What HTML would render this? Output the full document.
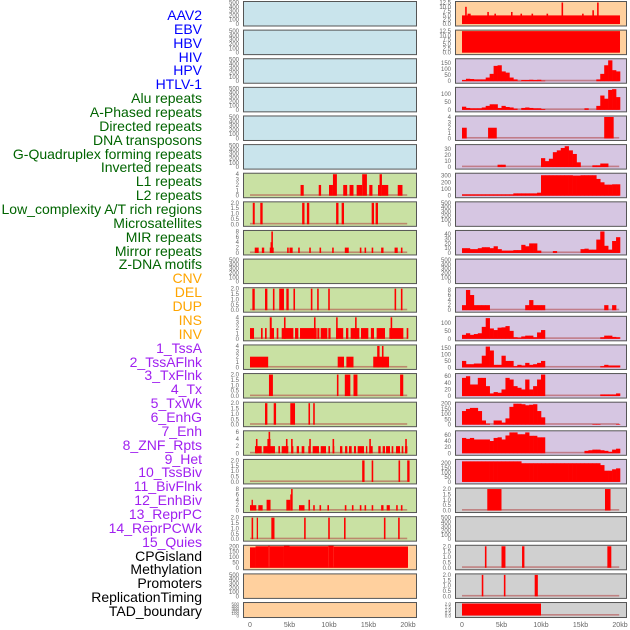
<!DOCTYPE html>
<html><head><meta charset="utf-8">
<style>
html,body{margin:0;padding:0;background:#fff;}
#wrap{position:relative;width:630px;height:630px;overflow:hidden;font-family:"Liberation Sans",sans-serif;}
.lab{position:absolute;right:428px;font-size:14px;line-height:14px;white-space:nowrap;}
svg{position:absolute;left:0;top:0;}
</style></head>
<body>
<div id="wrap">
<svg id="chart" width="630" height="630"></svg>
</div>
<script>
// ---------- data ----------
const labels = ["AAV2","EBV","HBV","HIV","HPV","HTLV-1","Alu repeats","A-Phased repeats","Directed repeats","DNA transposons","G-Quadruplex forming repeats","Inverted repeats","L1 repeats","L2 repeats","Low_complexity A/T rich regions","Microsatellites","MIR repeats","Mirror repeats","Z-DNA motifs","CNV","DEL","DUP","INS","INV","1_TssA","2_TssAFlnk","3_TxFlnk","4_Tx","5_TxWk","6_EnhG","7_Enh","8_ZNF_Rpts","9_Het","10_TssBiv","11_BivFlnk","12_EnhBiv","13_ReprPC","14_ReprPCWk","15_Quies","CPGisland","Methylation","Promoters","ReplicationTiming","TAD_boundary"];
const labelGroups = [6,13,5,15,5];
const groupColors = ["#0000ff","#006400","#ffa500","#a020f0","#000000"];
const xTickValues = [0,5,10,15,20];
const xTickLabels = ["0","5kb","10kb","15kb","20kb"];

const leftBg = ["b","b","b","b","b","b","g","g","g","g","g","g","g","g","g","g","g","g","g","p","p","p"];
const rightBg = ["p","p","v","v","v","v","v","v","v","v","v","v","v","v","v","v","v","e","e","e","e","e"];

const T500 = ["0","100","200","300","400","500"];
const T2 = ["0.0","0.5","1.0","1.5","2.0"];
const leftTicks = [T500,T500,T500,T500,T500,T500,["0","1","2","3","4"],T2,["0","2","4","6","8"],T500,T2,["0","1","2","3","4"],["0","1","2","3","4"],T2,T2,["0","2","4","6"],T2,["0","2","4","6","8"],T2,["0","50","100","150","200"],T500,T500];
const leftYMax = [500,500,500,500,500,500,4,2,8,500,2,4,4,2,2,6,2,8,2,200,500,500];
const rightTicks = [["0.0","2.5","5.0","7.5","10.0","12.5"],["0.0","2.5","5.0","7.5","10.0","12.5"],["0","50","100","150"],["0","50","100"],["0","1","2","3","4"],["0","10","20","30"],["0","100","200","300"],T500,["0","10","20","30","40"],T500,["0","2","4","6","8"],["0","50","100"],["0","50","100","150"],["0","20","40","60"],["0","50","100","150","200"],["0","20","40","60"],["0","50","100","150","200"],T2,T500,T2,T2,T2];
const rightYMax = [12.5,12.5,175,135,4,36,320,500,45,500,8.5,135,165,65,205,70,230,2,500,2,2,2];

// segments [startKb, endKb, value]
const leftSegs = [[],[],[],[],[],[],
 [[6.4,6.8,2],[8.7,9.0,2],[10.0,10.5,2],[10.5,11.0,4],[11.8,12.3,2],[12.6,13.1,2],[13.5,14.2,2],[14.2,14.8,4],[15.1,15.5,2],[16.2,16.6,2],[16.4,16.7,4],[16.7,17.5,2],[18.7,19.3,2]],
 [[0.35,0.6,2],[1.3,1.6,2],[6.6,6.9,2],[7.2,7.5,2],[10.9,11.2,2],[11.6,11.9,2],[15.4,15.7,2],[15.9,16.2,2]],
 [[0.6,1.1,2],[1.5,1.8,2],[2.5,3.0,2],[2.6,2.7,4],[2.7,2.9,8],[4.7,4.9,2],[5.0,5.4,2],[6.1,6.3,2],[7.5,7.7,2],[8.8,9.0,2],[10.4,10.6,2],[12.0,12.5,2],[13.9,14.1,2],[14.5,14.7,2],[15.4,15.6,2],[16.6,16.9,2],[18.3,18.7,2],[19.1,19.3,2]],
 [],
 [[0.3,0.6,2],[1.9,2.2,2],[2.9,3.1,2],[3.7,4.3,2],[4.6,4.9,2],[5.5,5.7,2],[7.7,7.9,2],[8.5,8.7,2],[9.9,10.1,2],[18.3,18.5,2],[19.1,19.3,2]],
 [[0,0.51,2],[1.39,1.6,2],[1.9,2.11,2],[2.53,3.04,2],[3.38,3.59,2],[4.01,5.49,2],[5.7,6.12,2],[6.33,8.44,2],[8.52,8.78,2],[8.95,9.79,2],[9.92,10.2,2],[10.9,11.8,2],[12.15,12.45,2],[12.74,13.84,2],[14.05,14.98,2],[15.3,15.7,2],[16.03,17.09,2],[17.64,19.41,2],[19.83,20.04,2],[2.5,2.75,4],[4.3,4.5,4],[8.1,8.3,4],[10.9,11.1,4],[13.3,13.5,4],[17.8,18.0,4]],
 [[0,2.3,2],[11.1,11.9,2],[12.2,13.1,2],[15.6,17.6,2],[16.1,16.4,4],[16.7,16.9,4]],
 [[2.4,2.9,2],[11.0,11.2,2],[12.0,12.7,2],[13.1,13.6,2],[19.0,19.4,2]],
 [[1.9,2.2,2],[3.0,3.3,2],[5.1,5.7,2],[7.4,7.6,2],[8.0,8.2,2]],
 [[0.63,1.48,2],[1.69,3.16,2],[3.59,3.8,2],[4.01,4.85,2],[5.27,5.49,2],[5.91,6.2,2],[6.54,6.88,2],[7.38,7.59,2],[7.93,8.73,2],[8.95,9.62,2],[9.92,10.13,2],[10.46,10.67,2],[11.39,11.69,2],[12.03,12.32,2],[12.53,12.87,2],[13.16,13.42,2],[13.63,14.43,2],[14.68,14.85,2],[15.1,15.53,2],[16.24,16.54,2],[16.79,17.09,2],[17.22,17.72,2],[17.93,18.14,2],[18.48,18.99,2],[19.2,19.41,2],[19.62,19.92,2],[0.75,0.95,4],[2.2,2.6,4],[2.35,2.55,6],[4.55,4.75,4],[5.2,5.4,4],[7.5,7.7,4],[10.45,10.65,4],[15.1,15.3,4],[19.65,19.85,4]],
 [[14.2,14.5,2],[15.4,15.6,2],[18.8,19.0,2],[19.9,20.2,2]],
 [[0,0.8,2],[0.2,0.35,4],[1.05,1.6,2],[2.1,2.6,4],[4.6,5.1,4],[5.1,5.25,6],[5.2,5.4,8],[6.2,6.9,2],[7.4,7.6,4],[8.0,8.2,2],[8.8,9.0,2],[9.8,10.0,2],[12.0,12.2,2],[12.9,13.1,2],[13.9,14.1,2],[14.5,14.7,2],[15.4,15.6,2],[16.6,16.9,2],[17.3,17.7,2],[18.5,18.7,2],[19.1,19.3,2]],
 [[0.2,0.4,2],[0.85,1.0,2],[2.7,3.1,2],[6.85,7.05,2],[9.9,10.1,2],[11.9,12.1,2],[16.95,17.15,2],[18.75,18.95,2]],
 [[0,0.7,190],[0.7,2.3,200],[2.3,2.5,205],[2.5,4.3,200],[4.3,5.0,205],[5.0,9.9,200],[9.9,10.6,205],[10.6,20,198]],
 [],[]];

const rightSegs = [
 [[0,20,5],[0.4,0.6,10],[0.7,1.1,6],[3.2,3.4,7],[4.1,4.3,6],[6.2,6.4,7],[7.4,7.6,6],[8.8,9.0,6],[10.7,10.9,6],[12.6,12.8,12.5],[15.2,15.4,6],[16.5,16.7,8],[17.1,17.3,12.5]],
 [[0,20,12.5]],
 [],[],
 [[0,0.6,2],[3.3,4.4,2],[18.0,19.2,4]],
 [],[],[],[],[],[],[],[],[],[],[],[],
 [[3.2,5.0,2],[18.1,18.8,2]],
 [],
 [[2.9,3.1,2],[5.0,5.5,2],[7.6,7.9,2],[18.4,18.9,2]],
 [[2.5,2.7,2],[5.3,5.5,2],[9.2,9.6,2]],
 [[0,10.0,2]]];

// 40 bins of 0.5 kb
const rightBins = [null,null,
 [10,20,18,15,15,15,30,60,125,130,80,70,30,15,3,10,10,12,10,12,5,0,0,0,0,0,0,0,0,0,0,0,0,0,15,60,130,170,90,80],
 [20,12,10,10,10,15,25,35,35,12,25,18,15,8,0,12,15,12,10,10,5,0,0,0,0,0,0,0,0,0,0,10,0,0,25,90,70,125,130,80],
 null,
 [0,0,0,0,0,0,0,0,0,4,4,0,0,0,0,0,0,0,0,0,15,10,14,25,28,32,35,28,22,8,0,0,0,3,3,6,6,0,0,0],
 [20,20,20,20,20,20,20,20,20,20,20,20,20,35,35,35,35,35,35,45,305,305,305,305,305,305,305,305,300,300,305,305,305,305,250,200,165,165,170,170],
 null,
 [10,10,8,8,10,12,12,10,14,8,5,5,5,6,6,17,14,20,20,5,0,0,0,4,0,0,0,0,0,0,8,9,7,7,28,45,15,7,25,33],
 null,
 [2,8,6,2,2,2,2,0,0,0,0,0,0,0,0,0,2,4,2,2,2,0,0,0,0,0,0,0,0,0,0,0,0,0,0,0,2,0,2,0],
 [25,35,25,30,35,75,130,65,55,70,72,80,50,10,8,15,20,20,10,40,55,0,0,0,0,0,0,0,0,0,0,0,0,0,0,10,20,20,12,10],
 [50,25,25,30,30,90,160,130,20,20,90,50,50,10,20,15,35,20,25,35,50,0,0,0,0,0,0,0,0,0,0,0,0,0,0,10,20,15,15,15],
 [55,60,35,35,55,55,30,8,12,10,20,55,50,30,25,20,50,20,30,50,65,0,0,0,0,0,0,0,0,0,0,0,0,0,0,5,5,5,5,8],
 [130,150,160,160,130,40,10,0,40,40,20,60,170,200,200,195,185,190,195,130,70,0,0,0,0,0,0,0,0,0,0,0,0,5,5,0,0,0,0,5],
 [50,47,50,45,45,45,45,40,50,52,45,58,68,68,62,62,68,57,57,52,52,0,0,0,0,0,0,0,0,0,0,8,10,12,12,10,8,5,12,15],
 [220,220,220,220,220,220,220,220,220,220,220,220,220,220,220,200,200,200,200,200,200,200,200,200,200,200,200,200,200,200,200,200,200,200,200,180,120,120,135,145],
 null,null,null,null,null];

// ---------- drawing ----------
const NS = "http://www.w3.org/2000/svg";
const svg = document.getElementById("chart");
const bgColors = {b:"#c9e4ec", g:"#c9e1a3", p:"#ffd09e", v:"#d6c6e2", e:"#d0d0d0"};
function mk(tag, attrs, parent){ const e=document.createElementNS(NS,tag); for(const k in attrs) e.setAttribute(k,attrs[k]); (parent||svg).appendChild(e); return e; }

// labels
const wrap = document.getElementById("wrap");
let li = 0;
labelGroups.forEach((n,gi)=>{
  for(let k=0;k<n;k++){
    const d=document.createElement("div");
    d.className="lab";
    d.style.top=(8+li*13.86)+"px";
    d.style.color=groupColors[gi];
    d.textContent=labels[li];
    
    
    wrap.appendChild(d);
    li++;
  }
});

const cols = [
  {x0:243, x1:416, z:250, t:408, bg:leftBg, ticks:leftTicks, ymax:leftYMax, segs:leftSegs, bins:null, name:"left"},
  {x0:455, x1:626, z:462, t:620, bg:rightBg, ticks:rightTicks, ymax:rightYMax, segs:rightSegs, bins:rightBins, name:"right"}
];

cols.forEach(c=>{
  const xs = kb => c.z + (c.t-c.z)*kb/20;
  for(let i=0;i<22;i++){
    const top = 1 + i*28.62;
    const h = (i===21) ? 15 : 24.5;
    const bottom = top + h;
    const ymax = c.ymax[i];
    const ys = v => (bottom-1.5) - (h-3)*v/ymax;
    const g = mk("g",{});
    
    
    const r = mk("rect",{x:c.x0+0.5,y:top+0.5,width:c.x1-c.x0,height:h,fill:bgColors[c.bg[i]],stroke:"#555","stroke-width":1},g);
    
    
    const tk = c.ticks[i];
    const fs = (i===21) ? 4.5 : 6;
    tk.forEach(s=>{
      const v=parseFloat(s);
      const t = mk("text",{x:c.x0-4,y:ys(v)+2,"text-anchor":"end","font-size":fs,fill:"#666","font-family":"Liberation Sans, sans-serif"},g);
      t.textContent=s;
      
      
    });
    const segs = c.segs[i] || [];
    const bins = c.bins ? c.bins[i] : null;
    const hasData = segs.length>0 || bins;
    if(hasData){
      const bl = mk("rect",{x:xs(0),y:bottom-3,width:xs(19.9)-xs(0),height:1.6,fill:"#b04040","fill-opacity":0.55},g);
      
      
    }
    segs.forEach(s=>{
      const x=xs(s[0]), w=Math.max(1.3,xs(s[1])-xs(s[0]));
      const y=Math.max(top+1,ys(s[2]));
      const b=mk("rect",{x:x,y:y,width:w,height:(bottom-1.5)-y,fill:"#ff0000"},g);
      
      
    });
    if(bins){
      bins.forEach((v,k)=>{
        if(v<=0) return;
        const x=xs(k*0.5), w=xs((k+1)*0.5)-x+0.3;
        const y=Math.max(top+1,ys(v));
        const b=mk("rect",{x:x,y:y,width:w,height:(bottom-1.5)-y,fill:"#ff0000"},g);
        
        
      });
    }
  }
  xTickValues.forEach((v,k)=>{
    const t=mk("text",{x:xs(v),y:627,"text-anchor":"middle","font-size":7,fill:"#666","font-family":"Liberation Sans, sans-serif"});
    t.textContent=xTickLabels[k];
    
    
  });
});
</script>
</body></html>
